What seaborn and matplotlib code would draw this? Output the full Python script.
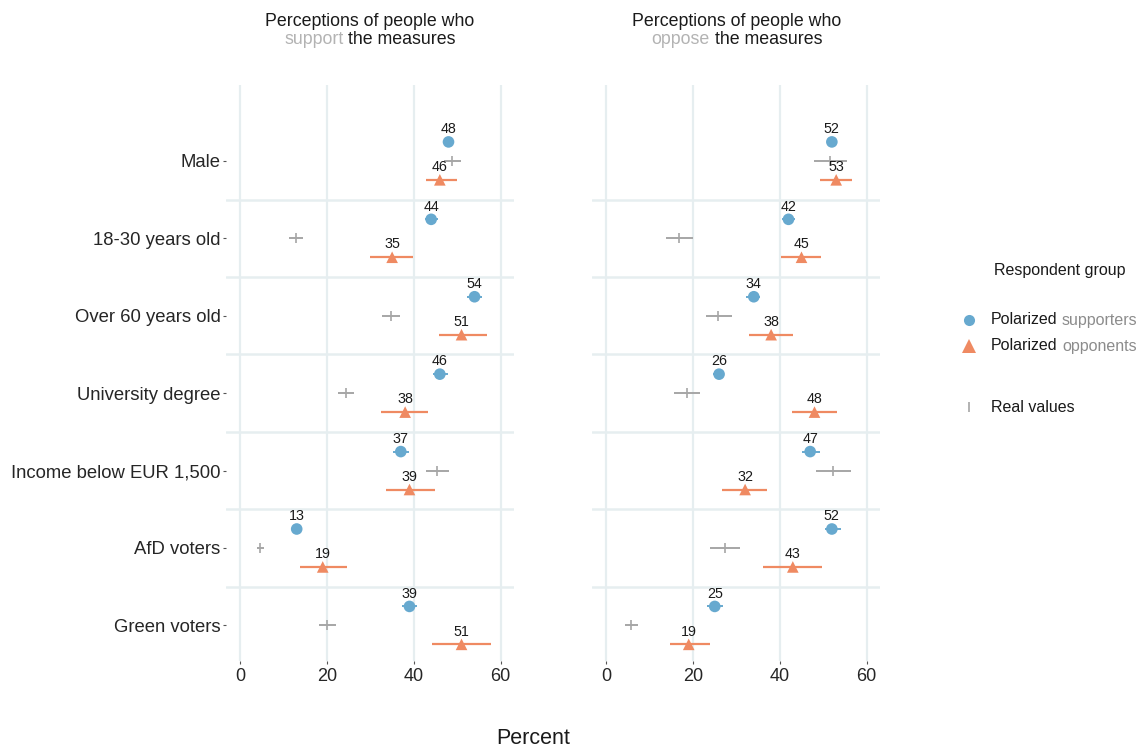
import numpy as np
import pandas as pd
import matplotlib
matplotlib.use("Agg")
import matplotlib.pyplot as plt
from matplotlib.lines import Line2D
import seaborn as sns

# ---- data -------------------------------------------------------------
categories = ["Male", "18-30 years old", "Over 60 years old", "University degree",
              "Income below EUR 1,500", "AfD voters", "Green voters"]

# Perceptions of people who support the measures
sup_sup_est = [48, 44, 54, 46, 37, 13, 39]
sup_sup_lo = [47.0, 42.6, 52.2, 44.5, 35.3, 12.2, 37.2]
sup_sup_hi = [49.2, 45.5, 55.8, 47.8, 38.8, 13.9, 40.8]
sup_opp_est = [46, 35, 51, 38, 39, 19, 51]
sup_opp_lo = [42.8, 30.0, 45.7, 32.4, 33.6, 13.8, 44.1]
sup_opp_hi = [49.9, 39.8, 56.8, 43.2, 44.8, 24.6, 57.7]
sup_real_est = [48.7, 12.9, 34.7, 24.4, 45.3, 4.6, 20.0]
sup_real_lo = [47.0, 11.3, 32.6, 22.5, 42.8, 3.9, 18.2]
sup_real_hi = [50.8, 14.5, 36.8, 26.2, 48.0, 5.5, 22.0]

# Perceptions of people who oppose the measures
opp_sup_est = [52, 42, 34, 26, 47, 52, 25]
opp_sup_lo = [50.8, 40.4, 32.3, 24.6, 45.2, 50.4, 23.2]
opp_sup_hi = [53.3, 43.6, 35.5, 27.2, 49.3, 54.2, 26.9]
opp_opp_est = [53, 45, 38, 48, 32, 43, 19]
opp_opp_lo = [49.3, 40.3, 32.9, 42.8, 26.6, 36.1, 14.6]
opp_opp_hi = [56.7, 49.5, 43.0, 53.2, 37.0, 49.8, 24.0]
opp_real_est = [51.6, 16.7, 25.7, 18.5, 52.3, 27.3, 5.8]
opp_real_lo = [47.9, 13.7, 22.9, 15.7, 48.4, 23.8, 4.2]
opp_real_hi = [55.6, 19.9, 28.9, 21.5, 56.3, 30.8, 7.4]

x_ticks = [0, 20, 40, 60]

# ---- styling ----------------------------------------------------------
BLUE = "#67a9cf"
ORANGE = "#ef8a62"
GREY = "#a6a6a6"
GRID = "#e6eef0"
FONT = ["Liberation Sans", "DejaVu Sans"]

sns.set_theme(style="white")
plt.rcParams["font.family"] = FONT
plt.rcParams["text.color"] = "#1a1a1a"

W, H, DPI = 1143, 749, 100
fig = plt.figure(figsize=(W / DPI, H / DPI), dpi=DPI)


def px_to_fig(x, y):
    return x / W, 1 - y / H


ax_l = fig.add_axes([226 / W, 1 - 661 / H, 288 / W, 576 / H])
ax_r = fig.add_axes([592 / W, 1 - 661 / H, 288 / W, 576 / H])

OFF = 0.245  # vertical dodge for the two respondent groups


def build_frame(sup, sup_lo, sup_hi, opp, opp_lo, opp_hi, real, real_lo, real_hi):
    rows = []
    for i, c in enumerate(categories):
        rows.append(dict(cat=c, pos=i - OFF, group="supporters", est=sup[i], lo=sup_lo[i], hi=sup_hi[i]))
        rows.append(dict(cat=c, pos=i + OFF, group="opponents", est=opp[i], lo=opp_lo[i], hi=opp_hi[i]))
        rows.append(dict(cat=c, pos=i, group="real", est=real[i], lo=real_lo[i], hi=real_hi[i]))
    return pd.DataFrame(rows)


def draw_panel(ax, df, show_labels):
    # background grid and row separators
    for xv in x_ticks:
        ax.axvline(xv, color=GRID, lw=1.6, zorder=0)
    for k in range(len(categories) - 1):
        ax.axhline(k + 0.5, color=GRID, lw=1.8, zorder=0)

    colors = {"supporters": BLUE, "opponents": ORANGE, "real": GREY}
    # intervals
    for grp, lw in [("real", 1.4), ("supporters", 1.4), ("opponents", 1.6)]:
        d = df[df.group == grp]
        ax.hlines(d.pos, d.lo, d.hi, color=colors[grp], lw=lw, zorder=2)

    # point estimates
    pts = df[df.group != "real"]
    sns.scatterplot(data=pts, x="est", y="pos", hue="group", style="group",
                    palette={"supporters": BLUE, "opponents": ORANGE},
                    markers={"supporters": "o", "opponents": "^"},
                    s=70, linewidth=0, legend=False, ax=ax, zorder=3)
    real = df[df.group == "real"]
    sns.scatterplot(data=real, x="est", y="pos", marker="|", color=GREY,
                    s=45, linewidth=1.2, legend=False, ax=ax, zorder=3)

    # value labels
    for _, r in pts.iterrows():
        ax.annotate(f"{r.est:.0f}", (r.est, r.pos), xytext=(0, 9.2),
                    textcoords="offset points", ha="center", va="center",
                    fontsize=10.3, color="#1a1a1a", zorder=4)

    ax.set_xlim(-3.3, 63.1)
    ax.set_ylim(6.46, -0.98)
    ax.set_xticks(x_ticks)
    ax.set_xticklabels([str(t) for t in x_ticks], fontsize=13)
    ax.set_yticks(range(len(categories)))
    if show_labels:
        ax.set_yticklabels(categories, fontsize=13.3)
        ax.tick_params(axis="y", length=2, width=0.8, color="#555555", pad=2, left=True)
    else:
        ax.set_yticklabels([])
        ax.tick_params(axis="y", length=0)
    ax.tick_params(axis="x", length=2, width=0.8, color="#555555", pad=3, bottom=True)
    ax.set_xlabel("")
    ax.set_ylabel("")
    for s in ax.spines.values():
        s.set_visible(False)


df_l = build_frame(sup_sup_est, sup_sup_lo, sup_sup_hi, sup_opp_est, sup_opp_lo, sup_opp_hi,
                   sup_real_est, sup_real_lo, sup_real_hi)
df_r = build_frame(opp_sup_est, opp_sup_lo, opp_sup_hi, opp_opp_est, opp_opp_lo, opp_opp_hi,
                   opp_real_est, opp_real_lo, opp_real_hi)
draw_panel(ax_l, df_l, True)
draw_panel(ax_r, df_r, False)

renderer = fig.canvas.get_renderer()


def text_width(s, size):
    t = fig.text(0, 0, s, fontsize=size)
    w = t.get_window_extent(renderer).width
    t.remove()
    return w


def multicolor_line(parts, x_px, y_px, size, align="center"):
    """Draw a line of text made of (string, color) parts, in pixel positions."""
    space = 0.278 * size * DPI / 72
    widths = [text_width(s, size) for s, _ in parts]
    total = sum(widths) + space * (len(parts) - 1)
    x = x_px - total / 2 if align == "center" else x_px
    for (s, col), w in zip(parts, widths):
        fx, fy = px_to_fig(x, y_px)
        fig.text(fx, fy, s, fontsize=size, color=col, ha="left", va="center")
        x += w + space


# panel titles
for cx, word in [(370, "support"), (737, "oppose")]:
    multicolor_line([("Perceptions of people who", "#1a1a1a")], cx, 21, 12.8)
    multicolor_line([(word, "#b3b3b3"), ("the measures", "#1a1a1a")], cx, 40, 12.8)

# shared x label
fx, fy = px_to_fig(533, 738)
fig.text(fx, fy, "Percent", fontsize=15.5, ha="center", va="center")

# legend
fx, fy = px_to_fig(1060, 270)
fig.text(fx, fy, "Respondent group", fontsize=11.5, ha="center", va="center")
legend_items = [
    (320, "o", BLUE, 8, [("Polarized", "#1a1a1a"), ("supporters", "#8c8c8c")]),
    (346, "^", ORANGE, 10, [("Polarized", "#1a1a1a"), ("opponents", "#8c8c8c")]),
    (407, "|", GREY, 7, [("Real values", "#1a1a1a")]),
]
for y, mk, col, ms, parts in legend_items:
    mx, my = px_to_fig(969, y)
    fig.add_artist(Line2D([mx], [my], marker=mk, color=col, markersize=ms,
                          markeredgewidth=1.2 if mk == "|" else 0,
                          linestyle="none", transform=fig.transFigure))
    multicolor_line(parts, 991, y, 11.5, align="left")

fig.savefig("out.png", dpi=DPI, facecolor="white")
